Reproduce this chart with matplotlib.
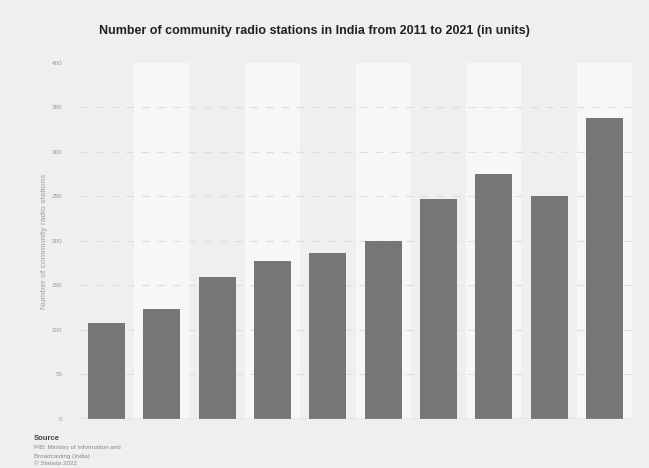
import matplotlib
matplotlib.use("Agg")
import matplotlib.pyplot as plt

plt.rcParams["font.family"] = ["Liberation Sans", "DejaVu Sans"]

years = ["2011", "2012", "2013", "2014", "2015", "2016", "2017", "2018", "2019", "2021"]
stations = [108, 124, 160, 178, 187, 200, 247, 275, 250, 338]
yticks = [0, 50, 100, 150, 200, 250, 300, 350, 400]
ytick_labels = ["0", "50", "100", "150", "200", "250", "300", "350", "400"]

fig = plt.figure(figsize=(6.49, 4.68), dpi=100)
fig.patch.set_facecolor("#efefef")
ax = fig.add_axes([0.1217, 0.1047, 0.8523, 0.7607])
ax.set_facecolor("#efefef")

x = list(range(len(years)))
for i in x:
    if i % 2 == 1:
        ax.axvspan(i - 0.5, i + 0.5, color="#f7f7f7", zorder=0, lw=0)

for t in yticks[1:-1]:
    ax.axhline(t, color="#dddddd", lw=0.8, ls=(0, (7, 7)), zorder=1)

ax.bar(x, stations, width=0.67, color="#767676", zorder=2)
ax.axhline(0, color="#b5b5b5", lw=1.0, zorder=3)

ax.set_xlim(-0.5, len(years) - 0.5)
ax.set_ylim(0, 400)
ax.set_xticks([])
ax.set_yticks(yticks)
ax.set_yticklabels(ytick_labels, fontsize=4.5, color="#999999")
ax.tick_params(axis="y", length=0, pad=12)
for s in ax.spines.values():
    s.set_visible(False)

ax.set_ylabel("Number of community radio stations", fontsize=6, color="#a0a0a0", labelpad=3)

fig.text(0.484, 0.933, "Number of community radio stations in India from 2011 to 2021 (in units)",
         ha="center", va="center", fontsize=9, fontweight="bold", color="#222222")

fig.text(0.052, 0.064, "Source", fontsize=5.5, fontweight="bold", color="#444444", va="center")
fig.text(0.052, 0.043, "PIB; Ministry of Information and", fontsize=4.5, color="#888888", va="center")
fig.text(0.052, 0.025, "Broadcasting (India)", fontsize=4.5, color="#888888", va="center")
fig.text(0.052, 0.009, "© Statista 2022", fontsize=4.5, color="#888888", va="center")

fig.savefig("out.png", dpi=100, facecolor=fig.get_facecolor())
